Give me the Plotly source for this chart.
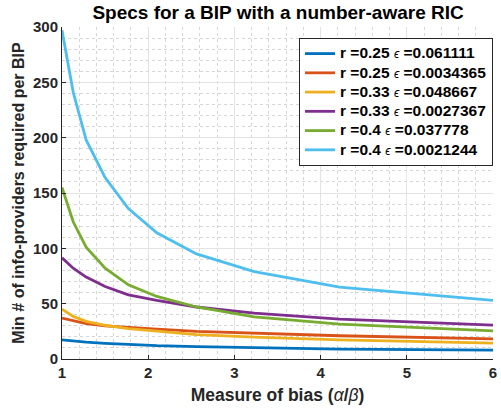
import plotly.graph_objects as go

x_bias = [1, 1.13, 1.28, 1.5, 1.77, 2.1, 2.56, 3.23, 4.22, 6]
x_ticks = [1, 2, 3, 4, 5, 6]
y_ticks = [0, 50, 100, 150, 200, 250, 300]

series_names = [
    "r =0.25 ϵ =0.061111",
    "r =0.25 ϵ =0.0034365",
    "r =0.33 ϵ =0.048667",
    "r =0.33 ϵ =0.0027367",
    "r =0.4 ϵ =0.037778",
    "r =0.4 ϵ =0.0021244",
]
blue_vals = [17.3, 16.3, 15.3, 14.2, 13.0, 12.0, 11.2, 10.4, 9.0, 8.1]
red_vals = [37.0, 34.5, 32.0, 30.0, 28.5, 27.0, 25.0, 23.2, 21.0, 18.2]
yellow_vals = [45.0, 38.5, 34.0, 30.5, 27.5, 25.0, 22.0, 19.7, 17.2, 14.3]
purple_vals = [91.5, 82.0, 74.0, 65.5, 58.0, 53.0, 47.0, 41.5, 36.0, 30.7]
green_vals = [155.0, 124.0, 101.0, 82.0, 67.0, 56.5, 47.0, 38.0, 31.5, 25.5]
cyan_vals = [297.0, 241.0, 198.0, 164.0, 136.0, 114.0, 95.0, 79.0, 65.0, 53.0]

all_vals = [blue_vals, red_vals, yellow_vals, purple_vals, green_vals, cyan_vals]
colors = ["#0072BD", "#D95319", "#EDB120", "#7E2F8E", "#77AC30", "#4DBEEE"]

FONT = "Liberation Sans, Arial, Helvetica, sans-serif"

fig = go.Figure()
for name, vals, col in zip(series_names, all_vals, colors):
    r_part, e_part = name.split(" ϵ ")
    label = (f"<span style='font-size:15.5px'><b>{r_part}</b> "
             f"<span style='font-weight:normal;font-size:12px'><i>ϵ</i></span>"
             f" <b>{e_part}</b></span>")
    fig.add_trace(go.Scatter(x=x_bias, y=vals, mode="lines", name=label,
                             line=dict(color=col, width=2.8)))

fig.update_layout(
    width=501, height=412,
    margin=dict(l=62, r=8, t=27, b=53),
    paper_bgcolor="white", plot_bgcolor="white",
    font=dict(family=FONT, size=15, color="#262626"),
    title=dict(text="<b>Specs for a BIP with a number-aware RIC</b>",
               x=0.555, xanchor="center", y=1 - 12 / 412, yanchor="middle",
               font=dict(size=19, color="black")),
    legend=dict(x=1.0, xanchor="right", y=0.967, yanchor="top",
                bgcolor="white", bordercolor="#262626", borderwidth=1,
                font=dict(size=12.5, color="black"), itemwidth=30,
                tracegroupgap=0),
    showlegend=True,
)
fig.update_xaxes(
    range=[1, 6], tickmode="array", tickvals=x_ticks,
    ticktext=[f"<b>{v}</b>" for v in x_ticks],
    showline=True, linecolor="#262626", linewidth=1,
    ticks="inside", ticklen=4, tickcolor="#262626",
    tickfont=dict(size=15, color="#262626"),
    showgrid=True, gridcolor="#e3e3e3", gridwidth=1,
    minor=dict(dtick=0.2, tick0=1, showgrid=True, gridcolor="#d6d6d6", griddash="dot", gridwidth=1),
    title=dict(text="<b>Measure of bias (</b><i>α</i><b>/</b><i>β</i><b>)</b>",
               font=dict(size=17.5, color="#262626"), standoff=8),
    zeroline=False, mirror=False, automargin=False,
)
fig.update_yaxes(
    range=[0, 300], tickmode="array", tickvals=y_ticks,
    ticktext=[f"<b>{v}</b>" for v in y_ticks],
    showline=True, linecolor="#262626", linewidth=1,
    ticks="inside", ticklen=4, tickcolor="#262626",
    tickfont=dict(size=15, color="#262626"),
    showgrid=True, gridcolor="#e3e3e3", gridwidth=1,
    minor=dict(dtick=10, tick0=0, showgrid=True, gridcolor="#d6d6d6", griddash="dot", gridwidth=1),
    title=dict(text="<b>Min # of info-providers required per BIP</b>",
               font=dict(size=16, color="#262626"), standoff=4),
    zeroline=False, mirror=False, automargin=False,
)

# remove the default 8px page margin so the 501x412 figure fills the window
fig.write_html("out.html", config={"displayModeBar": False},
               post_script="document.body.style.margin='0';")
